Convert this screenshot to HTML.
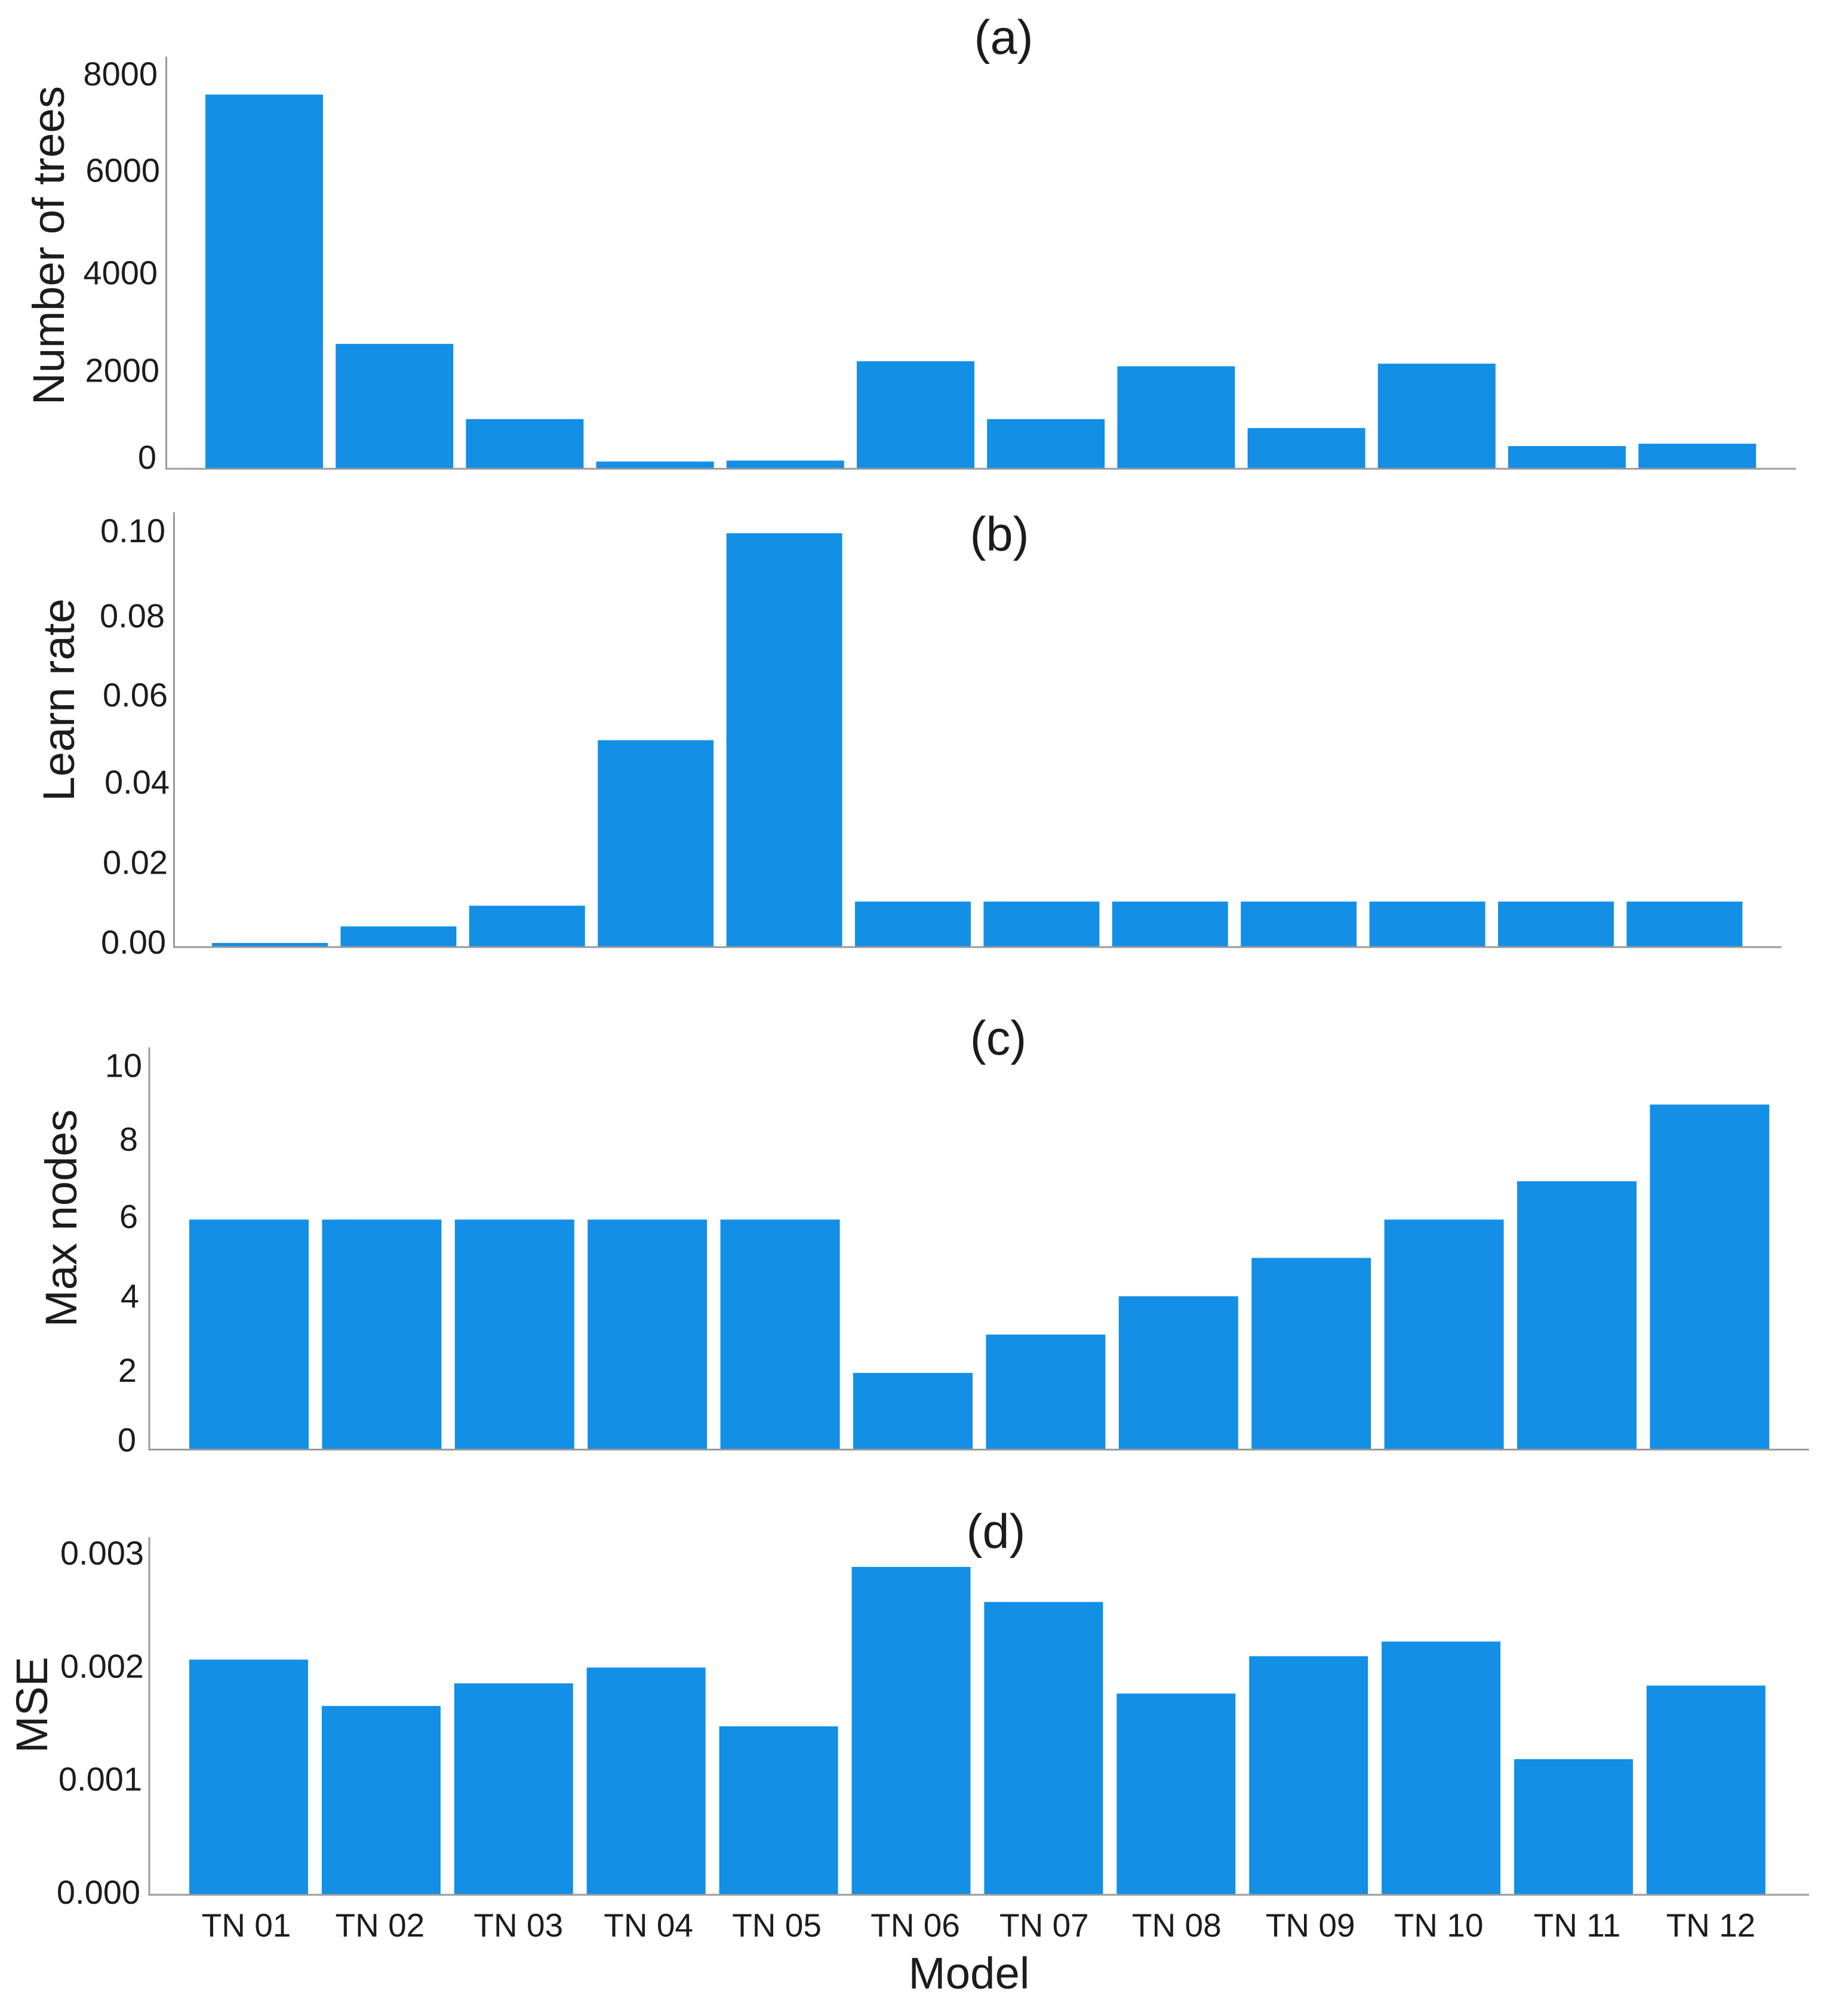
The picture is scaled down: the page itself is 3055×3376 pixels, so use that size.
<!DOCTYPE html>
<html lang="en">
<head>
<meta charset="utf-8">
<title>Model hyperparameters and MSE by tree network model</title>
<style>
html,body{margin:0;padding:0;background:#fff;}
svg{display:block;}
text{font-family:"Liberation Sans",sans-serif;fill:#1c1c1c;}
</style>
</head>
<body>
<svg id="chart" xmlns="http://www.w3.org/2000/svg" width="3055" height="3376" viewBox="0 0 3055 3376"></svg>
<script>
const categories = ["TN 01","TN 02","TN 03","TN 04","TN 05","TN 06","TN 07","TN 08","TN 09","TN 10","TN 11","TN 12"];

const treesValues = [7760,2590,1030,150,170,2230,1030,2125,845,2180,470,520];
const treesTicks = [0,2000,4000,6000,8000];
const treesTickLabels = ["0","2000","4000","6000","8000"];

const learnRateValues = [0.001,0.005,0.01,0.05,0.1,0.011,0.011,0.011,0.011,0.011,0.011,0.011];
const learnRateTicks = [0,0.02,0.04,0.06,0.08,0.1];
const learnRateTickLabels = ["0.00","0.02","0.04","0.06","0.08","0.10"];

const maxNodesValues = [6,6,6,6,6,2,3,4,5,6,7,9];
const maxNodesTicks = [0,2,4,6,8,10];
const maxNodesTickLabels = ["0","2","4","6","8","10"];

const mseValues = [0.00208,0.00167,0.00187,0.00201,0.00149,0.0029,0.00259,0.00178,0.00211,0.00224,0.0012,0.00185];
const mseTicks = [0,0.001,0.002,0.003];
const mseTickLabels = ["0.000","0.001","0.002","0.003"];

const SVG_NS = "http://www.w3.org/2000/svg";
const root = document.getElementById("chart");
const BAR_COLOR = "#138fe6";
const AXIS_COLOR = "#9a9a9a";

function make(tag, attrs, parent, content){
  const el = document.createElementNS(SVG_NS, tag);
  for (const k in attrs) el.setAttribute(k, attrs[k]);
  if (content !== undefined) el.textContent = content;
  parent.appendChild(el);
  return el;
}

/* Hand-placed look of the original figure: small per-label offsets relative to each tick. */
function drawPanel(p){
  const g = make("g", {}, root);
  
  

  const yScale = v => p.base - (v / p.domainMax) * p.plotHeight;
  const xScale = i => p.firstBar + i * p.pitch;

  p.values.forEach((v, i) => {
    const bar = make("rect", {
      x: xScale(i), y: yScale(v), width: p.barWidth, height: p.base - yScale(v), fill: BAR_COLOR
    }, g);
    
    
  });

  const yAxis = make("line", {x1:p.axisX, x2:p.axisX, y1:p.axisTop, y2:p.base+1.5, stroke:AXIS_COLOR, "stroke-width":3}, g);
  
  
  const xAxis = make("line", {x1:p.axisX-1.5, x2:p.axisRight, y1:p.base, y2:p.base, stroke:AXIS_COLOR, "stroke-width":3}, g);
  
  

  p.ticks.forEach((t, i) => {
    const label = make("text", {
      x: p.labelRight[i], y: yScale(t) + p.labelNudge[i] + 20, "text-anchor":"end", "font-size":56
    }, g, p.tickLabels[i]);
    
    
  });

  const title = make("text", {
    transform: "translate(" + p.titleX + " " + p.titleY + ") rotate(-90)", "text-anchor":"middle", "font-size":74.5
  }, g, p.yTitle);
  
  

  const caption = make("text", {
    x:p.capX, y:p.capY, "text-anchor":"middle", "font-size":81, fill:"#2a2a2a"
  }, g, p.caption);
  
  
}

drawPanel({
  id:"trees", values:treesValues, ticks:treesTicks, tickLabels:treesTickLabels,
  domainMax:8000, plotHeight:646, base:785, firstBar:344, pitch:218.2, barWidth:197,
  axisX:278.5, axisTop:95, axisRight:3008,
  labelRight:[262,267,264,268,264], labelNudge:[-20,-4,-6,-16,-16],
  yTitle:"Number of trees", titleX:107, titleY:411,
  caption:"(a)", capX:1681, capY:90
});
drawPanel({
  id:"learn-rate", values:learnRateValues, ticks:learnRateTicks, tickLabels:learnRateTickLabels,
  domainMax:0.1, plotHeight:693, base:1586, firstBar:355, pitch:215.4, barWidth:194,
  axisX:291.5, axisTop:858, axisRight:2984,
  labelRight:[278,281,284,281,276,277], labelNudge:[-9,-4,0,-7,-1,-5],
  yTitle:"Learn rate", titleX:124, titleY:1172,
  caption:"(b)", capX:1674, capY:922
});
drawPanel({
  id:"max-nodes", values:maxNodesValues, ticks:maxNodesTicks, tickLabels:maxNodesTickLabels,
  domainMax:10, plotHeight:642, base:2427.5, firstBar:317, pitch:222.4, barWidth:200,
  axisX:250, axisTop:1754, axisRight:3030,
  labelRight:[228,229,233,231,231,238], labelNudge:[-17,-5,-1,-6,-7,-2],
  yTitle:"Max nodes", titleX:128, titleY:2040,
  caption:"(c)", capX:1672, capY:1766
});
drawPanel({
  id:"mse", values:mseValues, ticks:mseTicks, tickLabels:mseTickLabels,
  domainMax:0.003, plotHeight:568, base:3173, firstBar:317, pitch:221.9, barWidth:199,
  axisX:250, axisTop:2574, axisRight:3030,
  labelRight:[235,238,241,241], labelNudge:[-5,-5,-5,-5],
  yTitle:"MSE", titleX:79, titleY:2855,
  caption:"(d)", capX:1668, capY:2592
});

/* Shared category axis under the bottom panel */
const xLabelNudge = [-4,-2,8,4,-3,7,1,1,3,-4,6,8];
const xLabels = make("g", {}, root);


categories.forEach((c, i) => {
  const t = make("text", {
    x: 317 + i * 221.9 + 99.5 + xLabelNudge[i], y: 3243, "text-anchor":"middle", "font-size":55
  }, xLabels, c);
  
  
});
const xTitle = make("text", {x:1623, y:3330, "text-anchor":"middle", "font-size":74.5}, root, "Model");


</script>
</body>
</html>
